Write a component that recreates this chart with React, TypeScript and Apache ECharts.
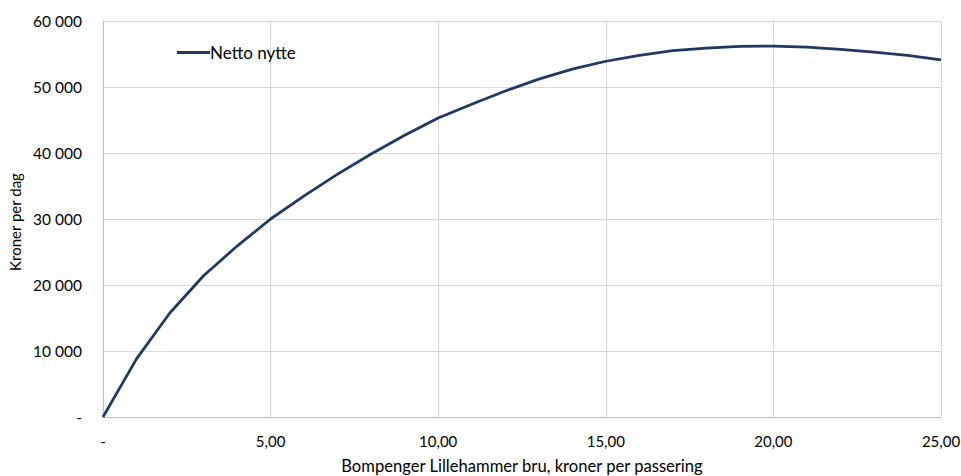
import React, { useEffect, useRef } from "react";
import * as echarts from "echarts";

// Bompenger (kr per passering) og netto nytte (kr per dag)
const toll: number[] = [0, 1, 2, 3, 4, 5, 6, 7, 8, 9, 10, 11, 12, 13, 14, 15, 16, 17, 18, 19, 20, 21, 22, 23, 24, 25];
const nettoNytte: number[] = [
  0, 8800, 15800, 21400, 25900, 30000, 33500, 36800, 39850, 42700, 45300, 47400, 49400,
  51200, 52700, 53900, 54800, 55500, 55900, 56150, 56200, 56050, 55700, 55300, 54800, 54100,
];

const FONT = "Lato, 'Noto Sans', sans-serif";

function fmtY(v: number): string {
  if (v === 0) return "-";
  return String(v).replace(/\B(?=(\d{3})+(?!\d))/g, " ");
}

function fmtX(v: number): string {
  if (v === 0) return "-";
  return v.toFixed(2).replace(".", ",");
}

export default function App() {
  const ref = useRef<HTMLDivElement>(null);

  useEffect(() => {
    if (!ref.current) return;
    const chart = echarts.init(ref.current, undefined, { renderer: "svg" });
    chart.setOption({
      animation: false,
      backgroundColor: "#ffffff",
      textStyle: { fontFamily: FONT },
      grid: { left: 103, right: 20, top: 21, bottom: 59, containLabel: false, outerBoundsMode: "none" },
      legend: {
        data: ["Netto nytte"],
        left: 172,
        top: 39,
        itemWidth: 33,
        itemHeight: 3,
        itemGap: 10,
        icon: "rect",
        textStyle: { fontFamily: FONT, fontSize: 17, color: "#000", padding: [0, 0, 0, -5] },
      },
      xAxis: {
        type: "value",
        min: 0,
        max: 25,
        interval: 5,
        name: "Bompenger Lillehammer bru, kroner per passering",
        nameLocation: "middle",
        nameGap: 40,
        nameTextStyle: { fontFamily: FONT, fontSize: 16.6, color: "#000" },
        axisLine: { show: true, lineStyle: { color: "#bfbfbf", width: 1 } },
        axisTick: { show: false },
        axisLabel: { formatter: fmtX, margin: 16, fontFamily: FONT, fontSize: 15, color: "#000" },
        splitLine: { show: true, lineStyle: { color: "#d9d9d9", width: 1 } },
      },
      yAxis: {
        type: "value",
        min: 0,
        max: 60000,
        interval: 10000,
        name: "Kroner per dag",
        nameLocation: "middle",
        nameGap: 80,
        nameTextStyle: { fontFamily: FONT, fontSize: 15, color: "#000", padding: [0, 6, 0, 0] },
        axisLine: { show: true, lineStyle: { color: "#bfbfbf", width: 1 } },
        axisTick: { show: false },
        axisLabel: { formatter: fmtY, margin: 21, fontFamily: FONT, fontSize: 15.5, color: "#000" },
        splitLine: { show: true, lineStyle: { color: "#d9d9d9", width: 1 } },
      },
      series: [
        {
          name: "Netto nytte",
          type: "line",
          data: toll.map((x, i) => [x, nettoNytte[i]]),
          symbol: "none",
          smooth: false,
          itemStyle: { color: "#1f3864" },
          lineStyle: { color: "#1f3864", width: 2.75 },
        },
      ],
    });
    return () => chart.dispose();
  }, []);

  return (
    <div
      ref={ref}
      style={{ position: "fixed", left: 0, top: 0, width: 961, height: 476, background: "#fff" }}
    />
  );
}
